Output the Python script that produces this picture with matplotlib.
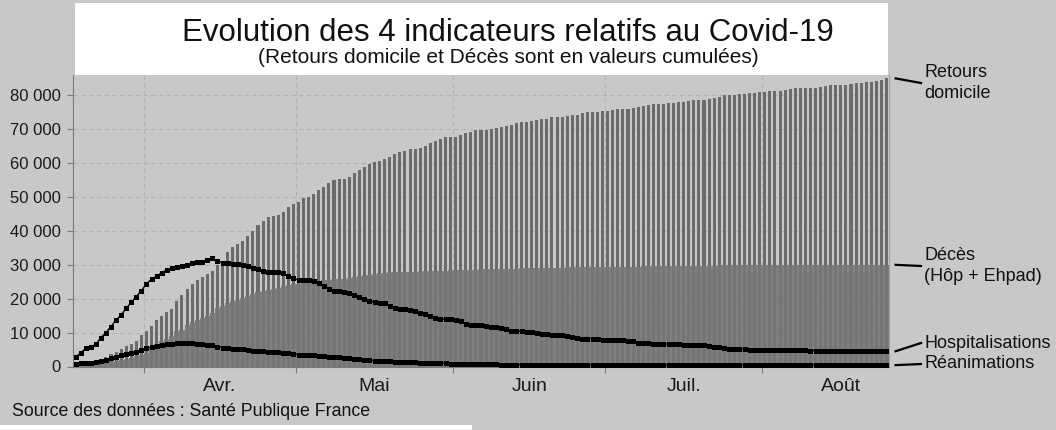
import numpy as np
import pandas as pd
import matplotlib
matplotlib.use("Agg")
import matplotlib.pyplot as plt
from matplotlib.patches import Rectangle
from matplotlib.lines import Line2D
from matplotlib.ticker import FuncFormatter, FixedLocator

plt.rcParams['font.family'] = ['Liberation Sans', 'DejaVu Sans']

# valeurs journalières en milliers, du 18 mars au 25 août 2020
debut = "2020-03-18"

retours = [0.44, 0.64, 0.93, 1.23, 1.62, 2.2, 2.9, 3.7, 4.4, 5.3, 6.0, 6.6, 7.5, 9.2, 10.5,
           12.0, 13.7, 14.9, 16.0, 16.9, 19.4, 21.1, 22.9, 24.3, 25.5, 26.5, 27.3, 28.3, 29.9,
           30.9, 33.9, 35.3, 36.1, 37.1, 38.6, 40.1, 41.8, 42.8, 44.0, 44.3, 44.6, 45.5, 47.0,
           48.0, 48.6,
           49.6, 49.9, 50.8, 52.1, 53.1, 54.0, 55.0, 55.2, 55.3,
           56.0, 57.0, 58.0, 59.0, 59.7, 60.4, 60.7, 61.1, 61.9, 62.7, 63.2, 63.6, 64.1, 64.1,
           64.6, 65.1, 65.8, 66.5, 67.1, 67.6, 67.6, 67.6, 68.3, 68.8, 69.3, 69.7,
           69.8, 69.8, 70.0, 70.3, 70.8, 71.0, 71.2, 71.7, 72.0, 72.1, 72.4, 72.7, 72.9, 73.1,
           73.5, 73.7, 73.7, 73.9, 74.1, 74.3, 74.7, 75.0, 75.0, 75.0, 75.3, 75.5, 75.7,
           76.1, 76.1, 76.1, 76.3, 76.6, 76.8, 77.1, 77.3, 77.4, 77.4, 77.6, 77.8, 78.0, 78.1,
           78.4, 78.5, 78.6, 78.6, 78.9, 79.1, 79.6, 80.0, 80.1, 80.2, 80.3, 80.4,
           80.6, 80.8, 81.0, 81.1, 81.3, 81.4, 81.4, 81.6, 81.9, 82.1, 82.1, 82.2, 82.3, 82.3,
           82.5, 82.7, 83.0, 83.0, 83.0, 83.1, 83.3, 83.5, 83.7, 83.8, 84.0, 84.2, 84.5, 85.0]

deces = [0.26, 0.37, 0.45, 0.56, 0.67, 0.86, 1.10, 1.33, 1.70, 2.00, 2.31, 2.61, 3.02, 3.52,
         4.03, 5.39, 6.51, 7.56, 8.08, 8.91, 10.33, 10.87, 12.21, 13.20, 13.83, 14.39, 14.97,
         15.73, 17.17, 17.92, 18.68, 19.32, 19.72, 20.27, 20.80, 21.34, 21.86, 22.25, 22.61,
         22.86, 23.29, 23.66, 24.09, 24.38,
         24.4, 24.6, 24.8, 25.0, 25.3, 25.5, 25.6, 25.7, 25.8, 25.9, 26.2, 26.5, 26.7, 27.0,
         27.1, 27.2,
         27.6, 27.7, 27.8, 27.8, 27.9, 27.9, 28.0, 28.0, 28.1, 28.1, 28.2, 28.2, 28.3, 28.3,
         28.4, 28.4, 28.5, 28.5, 28.6, 28.6,
         28.7, 28.7, 28.8, 28.8, 28.8, 28.9, 28.9, 28.9, 29.0, 29.0, 29.1, 29.1, 29.1, 29.2,
         29.2, 29.2, 29.2, 29.3, 29.3, 29.3, 29.3, 29.3, 29.4, 29.4, 29.4, 29.4, 29.4,
         29.5, 29.5, 29.5, 29.5, 29.5, 29.6, 29.6, 29.6, 29.6, 29.6, 29.6, 29.6, 29.7, 29.7,
         29.7, 29.7, 29.7, 29.7, 29.7, 29.7, 29.8, 29.8, 29.8, 29.8, 29.8, 29.8,
         29.8, 29.8, 29.8, 29.8, 29.8, 29.9, 29.9, 29.9, 29.9, 29.9, 29.9, 29.9, 29.9, 29.9,
         29.9, 30.0, 30.0, 30.0, 30.0, 30.0, 30.0, 30.0, 30.0, 30.0, 30.0, 30.0, 30.0, 30.0]

hospit = [2.9, 3.9, 5.4, 5.9, 6.5, 8.5, 10.0, 11.8, 13.7, 15.2, 17.2, 18.9, 20.6, 22.4, 24.4,
          25.8, 26.7, 27.7, 28.5, 29.0, 29.4, 29.6, 29.9, 30.4, 30.8, 30.9, 31.4, 32.0,
          31.1, 30.6, 30.4, 30.3, 30.1, 29.8, 29.6, 29.1, 28.7, 28.2, 27.9, 27.8, 27.8, 27.5,
          26.7, 26.0, 25.5, 25.5, 25.5, 25.2, 24.5, 23.7, 22.9, 22.4, 22.2, 22.1,
          21.8, 21.1, 20.4, 19.9, 19.4, 18.9, 18.8, 18.6, 17.9, 17.3, 17.0, 16.9, 16.6, 16.3,
          15.9, 15.4, 15.0, 14.4, 14.0, 13.9, 13.9, 13.8, 13.3, 12.6, 12.3, 12.1,
          12.1, 11.9, 11.8, 11.6, 11.3, 11.0, 10.6, 10.4, 10.4, 10.3, 10.1, 9.8, 9.6, 9.5, 9.4,
          9.4, 9.3, 9.1, 8.8, 8.4, 8.2, 8.2, 8.2, 8.0, 7.8, 7.7, 7.7,
          7.7, 7.7, 7.6, 7.5, 7.0, 6.8, 6.8, 6.7, 6.7, 6.6, 6.6, 6.6, 6.5, 6.3, 6.2, 6.3, 6.3,
          6.2, 6.1, 5.9, 5.7, 5.5, 5.3, 5.3, 5.2, 5.1,
          5.0, 5.0, 5.0, 4.9, 4.9, 4.9, 4.8, 4.8, 4.8, 4.8, 4.8, 4.8, 4.7, 4.7, 4.7, 4.7, 4.6,
          4.6, 4.7, 4.7, 4.6, 4.6, 4.6, 4.6, 4.6, 4.6, 4.6, 4.5]

reanim = [0.8, 0.9, 1.0, 1.1, 1.2, 1.6, 1.9, 2.4, 2.9, 3.3, 3.7, 4.1, 4.4, 5.0, 5.4, 5.8, 6.1,
          6.3, 6.5, 6.7, 6.9, 6.9, 6.8, 6.8, 6.7, 6.6, 6.4, 6.2,
          5.9, 5.6, 5.4, 5.3, 5.1, 5.1, 4.9, 4.7, 4.6, 4.5, 4.4, 4.3, 4.2, 4.1, 3.9, 3.7, 3.5,
          3.5, 3.5, 3.4, 3.2, 3.1, 2.9, 2.7, 2.7, 2.6,
          2.4, 2.2, 2.1, 2.0, 1.9, 1.7, 1.6, 1.6, 1.5, 1.4, 1.3, 1.3, 1.2, 1.2, 1.1, 1.1, 1.0,
          0.93, 0.93, 0.93, 0.84, 0.84, 0.74, 0.74, 0.74, 0.64,
          0.64, 0.62, 0.61, 0.60, 0.59, 0.58, 0.57, 0.56, 0.55, 0.54, 0.53, 0.53, 0.52, 0.51,
          0.50, 0.50, 0.49, 0.48, 0.48, 0.47, 0.47, 0.46, 0.46, 0.45, 0.45, 0.44, 0.44,
          0.44, 0.43, 0.43, 0.43, 0.42, 0.42, 0.42, 0.42, 0.41, 0.41, 0.41, 0.41, 0.41, 0.40,
          0.40, 0.40, 0.40, 0.40, 0.39, 0.39, 0.39, 0.39, 0.39, 0.39, 0.38, 0.38,
          0.38, 0.38, 0.38, 0.38, 0.38, 0.38, 0.38, 0.38, 0.38, 0.38, 0.38, 0.38, 0.38, 0.38,
          0.38, 0.38, 0.39, 0.39, 0.39, 0.39, 0.39, 0.39, 0.39, 0.40, 0.40, 0.40, 0.40, 0.40]

mois = ["Avr.", "Mai", "Juin", "Juil.", "Août"]
debut_mois = ["2020-04-01", "2020-05-01", "2020-06-01", "2020-07-01", "2020-08-01", "2020-09-01"]
y_ticks = [0, 10, 20, 30, 40, 50, 60, 70, 80]

BG = '#c8c8c8'
W, H = 1056, 430


def fx(px):  # pixel -> fraction de figure
    return px / W


def fy(py):  # pixel depuis le haut -> fraction de figure
    return 1 - py / H


t0 = pd.Timestamp(debut)
bornes = [(pd.Timestamp(d) - t0).days - 0.5 for d in debut_mois]
milieux = [(a + b) / 2 for a, b in zip(bornes[:-1], bornes[1:])]

fig = plt.figure(figsize=(W / 100, H / 100), dpi=100, facecolor=BG)

# cadre blanc du titre + bande blanche en bas
fig.patches.append(Rectangle((fx(75), fy(75)), fx(888 - 75), 72 / H, transform=fig.transFigure,
                             facecolor='white', edgecolor='none'))
fig.patches.append(Rectangle((0, 0), fx(472), 5 / H, transform=fig.transFigure,
                             facecolor='white', edgecolor='none'))

ax = fig.add_axes([fx(73), fy(366.5), fx(889 - 73), 291.5 / H], facecolor=BG)

ax.bar(np.arange(len(retours)), retours, width=0.6, color='#6b6b6b', zorder=2)
ax.bar(np.arange(len(deces)), deces, width=1.0, color='#777777', alpha=0.9, zorder=3)
for serie in (hospit, reanim):
    ax.plot(np.arange(len(serie)), serie, color='black', lw=1.0, marker='s', ms=3.6,
            markeredgewidth=0, zorder=4, clip_on=False)

ax.set_xlim(-0.5, len(retours) - 0.5)
ax.set_ylim(0, 86)
ax.set_axisbelow(True)

ax.yaxis.set_major_locator(FixedLocator(y_ticks))
ax.yaxis.set_major_formatter(FuncFormatter(lambda v, p: f"{int(v * 1000):,}".replace(",", " ")))
ax.xaxis.set_major_locator(FixedLocator(bornes[:-1]))
ax.xaxis.set_major_formatter(FuncFormatter(lambda v, p: ""))
ax.xaxis.set_minor_locator(FixedLocator(milieux))
ax.set_xticklabels(mois, minor=True)

ax.tick_params(axis='y', length=4, color='#7a7a7a', pad=5, labelsize=12, labelcolor='#1a1a1a')
ax.tick_params(axis='x', which='major', length=4, color='#7a7a7a')
ax.tick_params(axis='x', which='minor', length=0, pad=8, labelsize=14, labelcolor='#1a1a1a')

ax.grid(True, which='major', color='#b3b3b3', linestyle=(0, (4, 3)), linewidth=0.8)
for s in ['left', 'bottom']:
    ax.spines[s].set_color('#7a7a7a')
ax.spines['top'].set_visible(False)
ax.spines['right'].set_color('#a0a0a0')
ax.spines['right'].set_linewidth(0.8)

# titres
fig.text(fx(508), fy(41), "Evolution des 4 indicateurs relatifs au Covid-19",
         ha='center', va='baseline', fontsize=22.5, color='#111111')
fig.text(fx(508), fy(63), "(Retours domicile et Décès sont en valeurs cumulées)",
         ha='center', va='baseline', fontsize=15, color='#111111')
fig.text(fx(12), fy(416), "Source des données : Santé Publique France",
         ha='left', va='baseline', fontsize=12.8, color='#111111')

# étiquettes à droite avec leurs traits
etiquettes = [("Retours\ndomicile", retours[-1], 83),
              ("Décès\n(Hôp + Ehpad)", deces[-1], 266),
              ("Hospitalisations", hospit[-1], 343),
              ("Réanimations", reanim[-1], 364)]
for txt, val, ypx in etiquettes:
    x0, y0 = fig.transFigure.inverted().transform(ax.transData.transform((len(retours) + 0.8, val)))
    fig.add_artist(Line2D([x0, fx(921)], [y0, fy(ypx)], transform=fig.transFigure,
                          color='black', lw=1.6))
    fig.text(fx(924), fy(ypx), txt, ha='left', va='center', fontsize=13,
             color='#111111', linespacing=1.3)

fig.savefig("out.png", dpi=100, facecolor=BG)
